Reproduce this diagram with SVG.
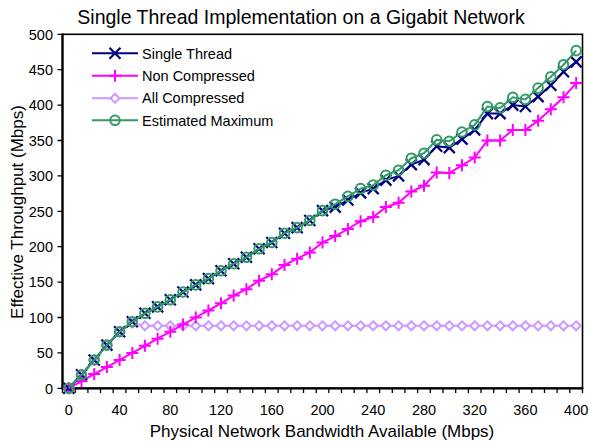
<svg xmlns="http://www.w3.org/2000/svg" width="589" height="444" viewBox="0 0 589 444">
  <style>
    text { font-family: "Liberation Sans", Arial, sans-serif; fill: #000; }
    .title { font-size: 19.5px; text-anchor: middle; }
    .axt { font-size: 17px; text-anchor: middle; }
    .ytl { font-size: 14.5px; text-anchor: end; }
    .xtl { font-size: 14.5px; text-anchor: middle; }
    .leg { font-size: 14.5px; }
    .tick { stroke: #000; stroke-width: 1.3; }
    .st { fill: none; stroke: #000080; stroke-width: 2; marker-start: url(#mX); marker-mid: url(#mX); marker-end: url(#mX); }
    .nc { fill: none; stroke: #FF00FF; stroke-width: 2; marker-start: url(#mP); marker-mid: url(#mP); marker-end: url(#mP); }
    .ac { fill: none; stroke: #CC99FF; stroke-width: 2; marker-start: url(#mD); marker-mid: url(#mD); marker-end: url(#mD); }
    .em { fill: none; stroke: #339966; stroke-width: 2; marker-start: url(#mO); marker-mid: url(#mO); marker-end: url(#mO); }
    .lst { fill: none; stroke: #000080; stroke-width: 2; marker-mid: url(#mX); }
    .lnc { fill: none; stroke: #FF00FF; stroke-width: 2; marker-mid: url(#mP); }
    .lac { fill: none; stroke: #CC99FF; stroke-width: 2; marker-mid: url(#mD); }
    .lem { fill: none; stroke: #339966; stroke-width: 2; marker-mid: url(#mO); }
  </style>
  <defs>
    <marker id="mX" markerUnits="userSpaceOnUse" viewBox="-8 -8 16 16" markerWidth="16" markerHeight="16" refX="0" refY="0" overflow="visible">
      <path d="M-5.5,-5.5 L5.5,5.5 M-5.5,5.5 L5.5,-5.5" stroke="#000080" stroke-width="2.2" fill="none"/>
    </marker>
    <marker id="mP" markerUnits="userSpaceOnUse" viewBox="-8 -8 16 16" markerWidth="16" markerHeight="16" refX="0" refY="0" overflow="visible">
      <path d="M0,-6 L0,6 M-6,0 L6,0" stroke="#FF00FF" stroke-width="2" fill="none"/>
    </marker>
    <marker id="mD" markerUnits="userSpaceOnUse" viewBox="-8 -8 16 16" markerWidth="16" markerHeight="16" refX="0" refY="0" overflow="visible">
      <path d="M0,-4.5 L4.5,0 L0,4.5 L-4.5,0 Z" stroke="#CC99FF" stroke-width="2" fill="#fff"/>
    </marker>
    <marker id="mO" markerUnits="userSpaceOnUse" viewBox="-8 -8 16 16" markerWidth="16" markerHeight="16" refX="0" refY="0" overflow="visible">
      <circle cx="0" cy="0" r="4.8" stroke="#339966" stroke-width="2" fill="none"/>
    </marker>
  </defs>

  <rect width="589" height="444" fill="#fff"/>

  <text class="title" x="301" y="24">Single Thread Implementation on a Gigabit Network</text>

  <!-- plot frame and axes -->
  <g id="axes">
    <rect x="62.5" y="34.3" width="520" height="354" fill="none" stroke="#000" stroke-width="1.6"/>
    <line x1="62.5" y1="33.5" x2="62.5" y2="389.3" stroke="#000" stroke-width="2.2"/>
    <line x1="61.5" y1="388.3" x2="583.3" y2="388.3" stroke="#000" stroke-width="2.2"/>
    <!-- y ticks every 50 -->
    <path class="tick" d="M57.5,388.3H62.5M57.5,352.9H62.5M57.5,317.5H62.5M57.5,282.1H62.5M57.5,246.7H62.5M57.5,211.3H62.5M57.5,175.9H62.5M57.5,140.5H62.5M57.5,105.1H62.5M57.5,69.7H62.5M57.5,34.3H62.5"/>
    <!-- x ticks on category boundaries -->
    <path class="tick" d="M62.5,388.3V393M75.2,388.3V393M87.9,388.3V393M100.5,388.3V393M113.2,388.3V393M125.9,388.3V393M138.6,388.3V393M151.3,388.3V393M164.0,388.3V393M176.6,388.3V393M189.3,388.3V393M202.0,388.3V393M214.7,388.3V393M227.4,388.3V393M240.1,388.3V393M252.7,388.3V393M265.4,388.3V393M278.1,388.3V393M290.8,388.3V393M303.5,388.3V393M316.2,388.3V393M328.8,388.3V393M341.5,388.3V393M354.2,388.3V393M366.9,388.3V393M379.6,388.3V393M392.3,388.3V393M404.9,388.3V393M417.6,388.3V393M430.3,388.3V393M443.0,388.3V393M455.7,388.3V393M468.4,388.3V393M481.0,388.3V393M493.7,388.3V393M506.4,388.3V393M519.1,388.3V393M531.8,388.3V393M544.5,388.3V393M557.1,388.3V393M569.8,388.3V393M582.5,388.3V393"/>
  </g>

  <g id="y-labels">
    <text class="ytl" x="53" y="393.5">0</text>
    <text class="ytl" x="53" y="358.1">50</text>
    <text class="ytl" x="53" y="322.7">100</text>
    <text class="ytl" x="53" y="287.3">150</text>
    <text class="ytl" x="53" y="251.9">200</text>
    <text class="ytl" x="53" y="216.5">250</text>
    <text class="ytl" x="53" y="181.1">300</text>
    <text class="ytl" x="53" y="145.7">350</text>
    <text class="ytl" x="53" y="110.3">400</text>
    <text class="ytl" x="53" y="74.9">450</text>
    <text class="ytl" x="53" y="39.5">500</text>
  </g>

  <g id="x-labels">
    <text class="xtl" x="68.8" y="414.5">0</text>
    <text class="xtl" x="119.6" y="414.5">40</text>
    <text class="xtl" x="170.3" y="414.5">80</text>
    <text class="xtl" x="221.0" y="414.5">120</text>
    <text class="xtl" x="271.8" y="414.5">160</text>
    <text class="xtl" x="322.5" y="414.5">200</text>
    <text class="xtl" x="373.2" y="414.5">240</text>
    <text class="xtl" x="424.0" y="414.5">280</text>
    <text class="xtl" x="474.7" y="414.5">320</text>
    <text class="xtl" x="525.4" y="414.5">360</text>
    <text class="xtl" x="576.2" y="414.5">400</text>
  </g>

  <text class="axt" x="322" y="437">Physical Network Bandwidth Available (Mbps)</text>
  <text class="axt" transform="translate(23,212) rotate(-90)">Effective Throughput (Mbps)</text>

  <!-- data series -->
  <g id="series">
    <polyline id="all-compressed" class="ac" points="68.8,388.3 81.5,374.8 94.2,360.0 106.9,345.1 119.6,331.7 132.3,323.2 144.9,325.8 157.6,325.8 170.3,325.8 183.0,325.8 195.7,325.8 208.4,325.8 221.0,325.8 233.7,325.8 246.4,325.8 259.1,325.8 271.8,325.8 284.5,325.8 297.1,325.8 309.8,325.8 322.5,325.8 335.2,325.8 347.9,325.8 360.6,325.8 373.2,325.8 385.9,325.8 398.6,325.8 411.3,325.8 424.0,325.8 436.7,325.8 449.3,325.8 462.0,325.8 474.7,325.8 487.4,325.8 500.1,325.8 512.8,325.8 525.4,325.8 538.1,325.8 550.8,325.8 563.5,325.8 576.2,325.8"/>
    <polyline id="non-compressed" class="nc" points="68.8,388.3 81.5,381.2 94.2,374.1 106.9,367.1 119.6,360.0 132.3,352.9 144.9,345.8 157.6,338.7 170.3,331.7 183.0,324.6 195.7,317.5 208.4,310.4 221.0,303.3 233.7,295.5 246.4,289.2 259.1,280.7 271.8,274.3 284.5,265.1 297.1,258.7 309.8,252.4 322.5,242.5 335.2,236.1 347.9,229.0 360.6,221.2 373.2,217.0 385.9,207.1 398.6,202.8 411.3,191.5 424.0,185.8 436.7,172.4 449.3,173.1 462.0,165.3 474.7,157.5 487.4,140.5 500.1,140.5 512.8,129.9 525.4,129.9 538.1,120.7 550.8,109.3 563.5,97.3 576.2,83.1"/>
    <polyline id="single-thread" class="st" points="68.8,388.3 81.5,374.8 94.2,360.0 106.9,345.1 119.6,331.7 132.3,321.7 144.9,313.3 157.6,306.9 170.3,299.8 183.0,292.0 195.7,284.9 208.4,278.6 221.0,270.8 233.7,263.7 246.4,257.3 259.1,248.8 271.8,242.5 284.5,233.2 297.1,227.6 309.8,220.5 322.5,210.6 335.2,207.1 347.9,200.0 360.6,192.9 373.2,188.6 385.9,180.1 398.6,175.9 411.3,164.6 424.0,159.6 436.7,146.2 449.3,147.6 462.0,139.1 474.7,129.9 487.4,113.6 500.1,113.6 512.8,105.1 525.4,106.5 538.1,96.6 550.8,85.3 563.5,71.8 576.2,61.9"/>
    <polyline id="estimated-maximum" class="em" points="68.8,388.3 81.5,374.8 94.2,360.0 106.9,345.1 119.6,331.7 132.3,321.7 144.9,313.3 157.6,306.9 170.3,299.8 183.0,292.0 195.7,284.9 208.4,278.6 221.0,270.8 233.7,263.7 246.4,257.3 259.1,248.8 271.8,242.5 284.5,233.2 297.1,227.6 309.8,220.5 322.5,210.6 335.2,204.2 347.9,196.4 360.6,188.6 373.2,185.1 385.9,175.2 398.6,170.2 411.3,158.2 424.0,153.2 436.7,139.8 449.3,141.2 462.0,132.0 474.7,124.9 487.4,106.5 500.1,107.9 512.8,97.3 525.4,99.4 538.1,88.1 550.8,76.8 563.5,64.7 576.2,50.6"/>
  </g>

  <!-- legend -->
  <g id="legend">
    <g id="legend-single-thread">
      <polyline class="lst" points="92,53.3 115,53.3 138,53.3"/>
      <text class="leg" x="142" y="58.5">Single Thread</text>
    </g>
    <g id="legend-non-compressed">
      <polyline class="lnc" points="92,75.8 115,75.8 138,75.8"/>
      <text class="leg" x="142" y="81">Non Compressed</text>
    </g>
    <g id="legend-all-compressed">
      <polyline class="lac" points="92,98.2 115,98.2 138,98.2"/>
      <text class="leg" x="142" y="103.4">All Compressed</text>
    </g>
    <g id="legend-estimated-maximum">
      <polyline class="lem" points="92,120.3 115,120.3 138,120.3"/>
      <text class="leg" x="142" y="125.5">Estimated Maximum</text>
    </g>
  </g>
</svg>
